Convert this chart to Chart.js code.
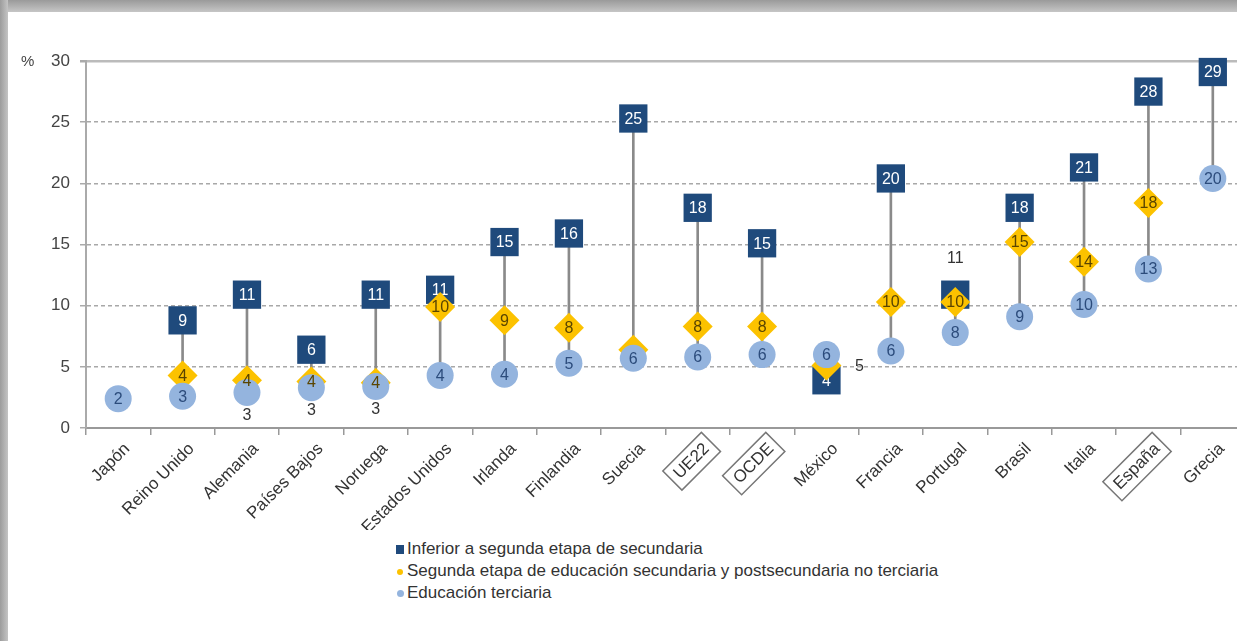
<!DOCTYPE html>
<html lang="es">
<head>
<meta charset="utf-8">
<title>Tasa de desempleo por nivel educativo</title>
<script src="https://cdn.jsdelivr.net/npm/chart.js@4.4.1/dist/chart.umd.min.js"></script>
<style>
    body { margin: 0; width: 1237px; height: 641px; overflow: hidden; background: #fff; position: relative; font-family: "Liberation Sans", Arial, sans-serif; }
    #marcoSup { position: absolute; left: 0; top: 0; width: 1237px; height: 12px; background: linear-gradient(#9a9a9a, #c6c6c6); z-index: 3; }
    #marcoIzq { position: absolute; left: 0; top: 0; width: 8px; height: 641px; background: linear-gradient(to right, #9c9c9c, #c4c4c4); z-index: 3; }
    #contenedor { position: absolute; left: 0; top: 0; width: 1265px; height: 530px; }
    #leyenda { position: absolute; left: 396px; top: 538px; font-size: 17px; color: #333; line-height: 22px; }
    #leyenda div { position: relative; padding-left: 11px; white-space: nowrap; }
    #leyenda span { position: absolute; }
</style>
</head>
<body>
<div id="marcoSup"></div>
<div id="marcoIzq"></div>
<div id="contenedor"><canvas id="grafico_puntos" width="1265" height="530"></canvas></div>
<div id="leyenda"></div>

<script>
// categorias del eje x
const paises = ['Japón', 'Reino Unido', 'Alemania', 'Países Bajos', 'Noruega', 'Estados Unidos', 'Irlanda',
    'Finlandia', 'Suecia', 'UE22', 'OCDE', 'México', 'Francia', 'Portugal', 'Brasil', 'Italia', 'España', 'Grecia'];

// tasa de desempleo (%) por nivel educativo
const inferior = [null, 8.8, 10.9, 6.4, 10.9, 11.3, 15.2, 15.9, 25.3, 18.0, 15.1, 3.9, 20.4, 10.9, 18.0, 21.3, 27.5, 29.1];
const segunda = [null, 4.3, 3.9, 3.8, 3.7, 9.9, 8.8, 8.2, 6.4, 8.3, 8.3, 5.1, 10.3, 10.3, 15.2, 13.6, 18.4, null];
const terciaria = [2.4, 2.6, 2.9, 3.3, 3.4, 4.3, 4.4, 5.3, 5.7, 5.8, 6.0, 6.0, 6.3, 7.8, 9.1, 10.1, 13.0, 20.4];

const nombresSeries = ['Inferior a segunda etapa de secundaria',
    'Segunda etapa de educación secundaria y postsecundaria no terciaria',
    'Educación terciaria'];

const ticksY = [0, 5, 10, 15, 20, 25, 30];

// donde va la etiqueta de cada punto (in / below / above / right / none)
const posInferior = ['in', 'in', 'in', 'in', 'in', 'in', 'in', 'in', 'in', 'in', 'in', 'in', 'in', 'above', 'in', 'in', 'in', 'in'];
const posSegunda = ['in', 'in', 'in', 'in', 'in', 'in', 'in', 'in', 'none', 'in', 'in', 'right', 'in', 'in', 'in', 'in', 'in', 'in'];
const posTerciaria = ['in', 'in', 'below', 'below', 'below', 'in', 'in', 'in', 'in', 'in', 'in', 'in', 'in', 'in', 'in', 'in', 'in', 'in'];

const enCaja = ['UE22', 'OCDE', 'España'];

const azul = '#1f4a7c';
const amarillo = '#fcc200';
const celeste = '#94b4de';
const fuente = '"Liberation Sans", Arial, sans-serif';

// rango min-max de cada pais para la linea vertical
const rangos = paises.map(function (p, i) {
    let vals = [inferior[i], segunda[i], terciaria[i]].filter(v => v !== null);
    if (vals.length < 2) return null;
    return [Math.min(...vals), Math.max(...vals)];
});

function dibujarEtiquetas(chart, indice, posiciones, color) {
    const ctx = chart.ctx;
    const meta = chart.getDatasetMeta(indice);
    const datos = chart.data.datasets[indice].data;
    ctx.save();
    ctx.font = '16px ' + fuente;
    ctx.textAlign = 'center';
    ctx.textBaseline = 'middle';
    meta.data.forEach(function (punto, i) {
        if (datos[i] === null) return;
        let pos = posiciones[i];
        if (pos === 'none') return;
        let x = punto.x, y = punto.y, c = color;
        if (pos === 'below') { y += 22; c = '#333'; }
        if (pos === 'above') { y -= 37; c = '#333'; }
        if (pos === 'right') { x += 33; c = '#333'; }
        ctx.fillStyle = c;
        ctx.fillText(String(Math.round(datos[i])), x, y + 1);
    });
    ctx.restore();
}

const pluginEtiquetas = {
    id: 'etiquetas',
    afterDatasetDraw(chart, args) {
        if (args.index === 1) dibujarEtiquetas(chart, 1, posInferior, '#ffffff');
    },
    afterDatasetsDraw(chart) {
        dibujarEtiquetas(chart, 3, posTerciaria, '#2c4c7c');
        dibujarEtiquetas(chart, 2, posSegunda, '#5a4500');
    },
    afterDraw(chart) {
        const ctx = chart.ctx;
        const escalaY = chart.scales.y;
        // signo de % junto al 30
        ctx.save();
        ctx.font = '15px ' + fuente;
        ctx.fillStyle = '#444';
        ctx.textAlign = 'left';
        ctx.textBaseline = 'middle';
        ctx.fillText('%', 21, escalaY.getPixelForValue(30) + 1);
        ctx.restore();

        // cajas en UE22, OCDE y España
        const items = chart.scales.x.getLabelItems();
        items.forEach(function (item) {
            if (!enCaja.includes(item.label)) return;
            const o = item.options;
            ctx.save();
            ctx.translate(o.translation[0], o.translation[1]);
            ctx.rotate(o.rotation);
            ctx.font = item.font.string;
            const w = ctx.measureText(item.label).width;
            const h = item.font.size;
            ctx.strokeStyle = '#777';
            ctx.lineWidth = 1.5;
            ctx.strokeRect(-w - 6, item.textOffset - h / 2 - 5, w + 12, h + 10);
            ctx.restore();
        });
    }
};

const ctx = document.getElementById('grafico_puntos');

const graficoPuntos = new Chart(ctx, {
    data: {
        labels: paises,
        datasets: [{
            type: 'bar',
            label: 'rango',
            data: rangos,
            backgroundColor: '#8a8a8a',
            barThickness: 2,
            order: 4
        }, {
            type: 'line',
            label: nombresSeries[0],
            data: inferior,
            showLine: false,
            clip: false,
            pointStyle: 'rect',
            pointRadius: 20,
            pointBackgroundColor: azul,
            pointBorderColor: azul,
            pointBorderWidth: 0,
            order: 3
        }, {
            type: 'line',
            label: nombresSeries[1],
            data: segunda,
            showLine: false,
            clip: false,
            pointStyle: 'rectRot',
            pointRadius: 15,
            pointBackgroundColor: amarillo,
            pointBorderColor: amarillo,
            pointBorderWidth: 0,
            order: 2
        }, {
            type: 'line',
            label: nombresSeries[2],
            data: terciaria,
            showLine: false,
            clip: false,
            pointStyle: 'circle',
            pointRadius: 13.5,
            pointBackgroundColor: celeste,
            pointBorderColor: celeste,
            pointBorderWidth: 0,
            order: 1
        }]
    },
    options: {
        responsive: false,
        animation: false,
        events: [],
        layout: { padding: { top: 61, right: 6, left: 0, bottom: 0 } },
        plugins: {
            legend: { display: false },
            tooltip: { enabled: false }
        },
        scales: {
            x: {
                ticks: {
                    color: '#333',
                    font: { family: fuente, size: 17 },
                    minRotation: 45,
                    maxRotation: 45,
                    autoSkip: false,
                    padding: 4,
                    labelOffset: 9
                },
                grid: { drawOnChartArea: false, tickLength: 7, color: '#999', lineWidth: 1.5 },
                border: { color: '#999', width: 2 },
                afterFit: function (s) { s.height = 102; }
            },
            y: {
                min: 0,
                max: 30,
                afterBuildTicks: function (s) { s.ticks = ticksY.map(v => ({ value: v })); },
                ticks: {
                    color: '#444',
                    font: { family: fuente, size: 17 },
                    padding: 10
                },
                grid: {
                    color: function (c) {
                        if (c.tick && c.tick.value === 0) return 'rgba(0,0,0,0)';
                        if (c.tick && c.tick.value === 30) return '#bbb';
                        return '#a8a8a8';
                    },
                    lineWidth: function (c) { return (c.tick && c.tick.value === 30) ? 2.5 : 1.5; },
                    tickLength: 6,
                    tickColor: '#aaa',
                    tickBorderDash: []
                },
                border: {
                    color: '#aaa',
                    width: 2,
                    dash: function (c) {
                        if (!c.tick || c.tick.value === 0 || c.tick.value === 30) return [];
                        return [4, 3];
                    }
                },
                afterFit: function (s) { s.width = 86; }
            }
        }
    },
    plugins: [pluginEtiquetas]
});

// leyenda aparte, una serie por linea
const marcas = [
    '<span style="left:0;top:7px;width:8px;height:9px;background:' + azul + '"></span>',
    '<span style="left:1px;top:9px;width:6px;height:6px;border-radius:50%;background:' + amarillo + '"></span>',
    '<span style="left:1px;top:8px;width:7px;height:7px;border-radius:50%;background:' + celeste + '"></span>'
];
let html = '';
nombresSeries.forEach(function (nombre, i) {
    html += '<div>' + marcas[i] + nombre + '</div>';
});
document.getElementById('leyenda').innerHTML = html;
</script>
</body>
</html>
